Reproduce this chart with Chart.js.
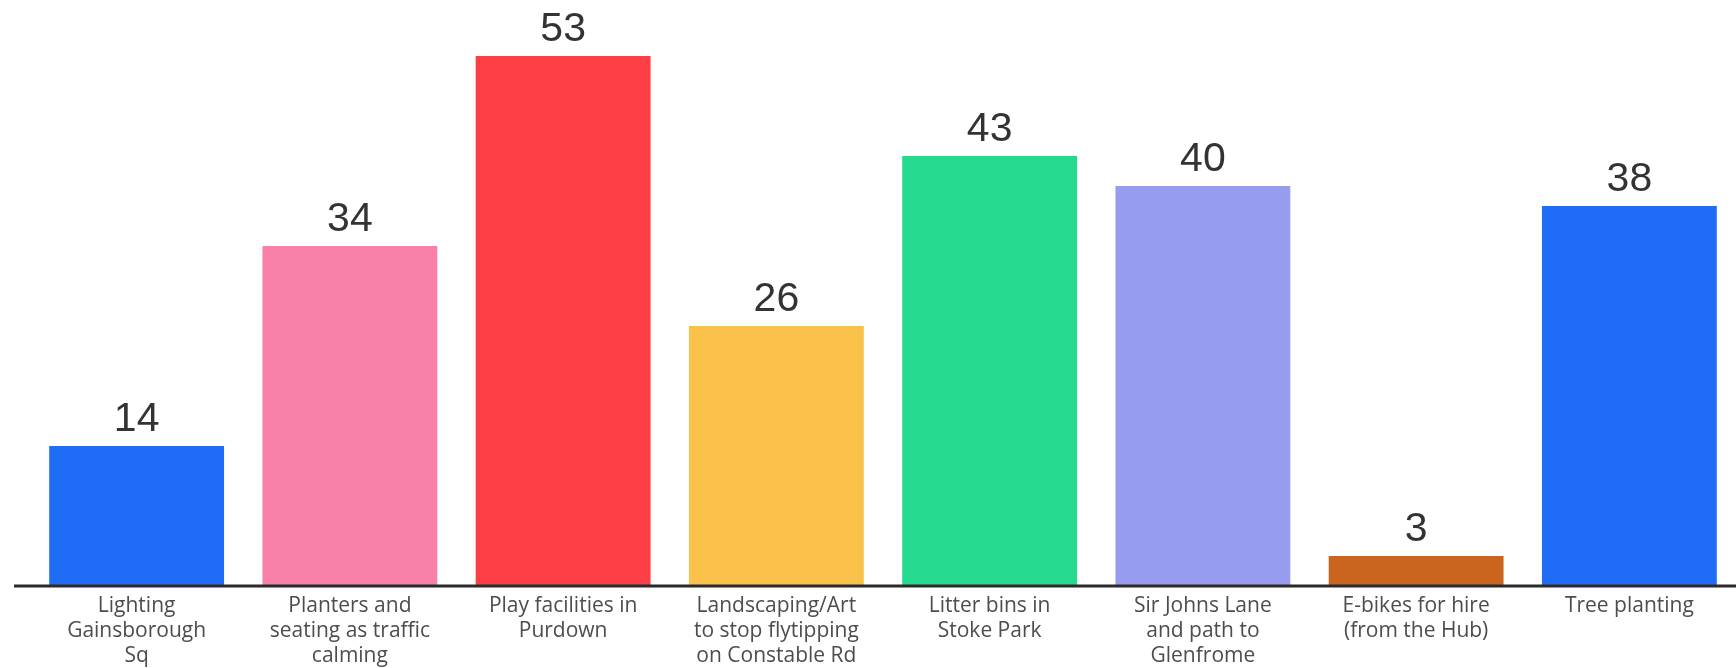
<!DOCTYPE html>
<html>
<head>
<meta charset="utf-8">
<script src="https://cdn.jsdelivr.net/npm/chart.js@4/dist/chart.umd.min.js"></script>
<style>
  html, body { margin: 0; padding: 0; background: #fff; }
  #wrap { width: 1736px; height: 668px; }
</style>
</head>
<body>
<div id="wrap"><canvas id="chart"></canvas></div>
<script>
// categories (multi-line labels as shown under each bar)
const categories = [
    ['Lighting', 'Gainsborough', 'Sq'],
    ['Planters and', 'seating as traffic', 'calming'],
    ['Play facilities in', 'Purdown'],
    ['Landscaping/Art', 'to stop flytipping', 'on Constable Rd'],
    ['Litter bins in', 'Stoke Park'],
    ['Sir Johns Lane', 'and path to', 'Glenfrome'],
    ['E-bikes for hire', '(from the Hub)'],
    ['Tree planting']
];
const votes = [14, 34, 53, 26, 43, 40, 3, 38];
const barColors = ['#1f6df6', '#f980a8', '#fd3f45', '#fac24b', '#25d98f', '#989cee', '#c9651f', '#1f6df6'];

// value labels above bars
const valueLabels = {
    id: 'valueLabels',
    afterDatasetsDraw(chart) {
        const ctx = chart.ctx;
        const meta = chart.getDatasetMeta(0);
        ctx.save();
        ctx.font = '41px "Liberation Sans", Arial, sans-serif';
        ctx.fillStyle = '#333333';
        ctx.textAlign = 'center';
        ctx.textBaseline = 'alphabetic';
        meta.data.forEach((bar, i) => {
            ctx.fillText(String(votes[i]), bar.x, bar.y - 15);
        });
        ctx.restore();
    }
};

// baseline that runs a bit past the first bar on the left
const baseLine = {
    id: 'baseLine',
    afterDatasetsDraw(chart) {
        const ctx = chart.ctx;
        const y = chart.scales.y.getPixelForValue(0);
        ctx.save();
        ctx.strokeStyle = '#2a2a2a';
        ctx.lineWidth = 3;
        ctx.beginPath();
        ctx.moveTo(14, y);
        ctx.lineTo(chart.chartArea.right, y);
        ctx.stroke();
        ctx.restore();
    }
};

const ctx = document.getElementById('chart').getContext('2d');
new Chart(ctx, {
    type: 'bar',
    data: {
        labels: categories,
        datasets: [{
            data: votes,
            backgroundColor: barColors,
            borderWidth: 0,
            categoryPercentage: 1,
            barPercentage: 0.82
        }]
    },
    options: {
        responsive: true,
        maintainAspectRatio: false,
        animation: false,
        layout: { padding: { left: 30, right: 0, top: 36, bottom: 0 } },
        scales: {
            y: {
                display: false,
                min: 0,
                max: 55
            },
            x: {
                grid: { display: false },
                border: { display: false },
                ticks: {
                    color: '#4d4d4d',
                    padding: 0,
                    maxRotation: 0,
                    autoSkip: false,
                    font: { family: '"Open Sans", sans-serif', size: 21, lineHeight: 1.19 }
                },
                afterFit(scale) { scale.height = 82; }
            }
        },
        plugins: {
            legend: { display: false },
            tooltip: { enabled: false }
        }
    },
    plugins: [valueLabels, baseLine]
});
</script>
</body>
</html>
